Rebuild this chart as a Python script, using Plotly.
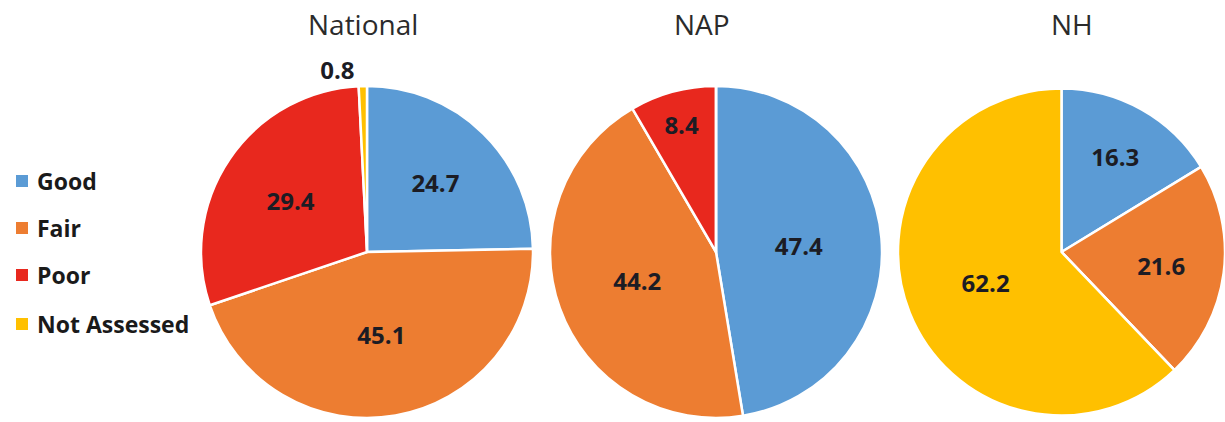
import plotly.graph_objects as go

categories = ["Good", "Fair", "Poor", "Not Assessed"]
colors = ["#5B9BD5", "#ED7D31", "#E8281E", "#FFC000"]

regions = ["National", "NAP", "NH"]
national = [24.7, 45.1, 29.4, 0.8]
nap = [47.4, 44.2, 8.4, 0.0]
nh = [16.3, 21.6, 0.0, 62.2]
series = [national, nap, nh]

W, H = 1225, 422
# pie domains in pixels (left, right, top, bottom)
dom_px = [(201, 533, 86, 418), (550, 882, 86, 418), (898, 1225, 86, 418)]
title_x = [363, 702, 1072]

fig = go.Figure()
for name, vals, (l, r, t, b) in zip(regions, series, dom_px):
    texts = [f"{v:.1f}" if v > 0 else "" for v in vals]
    pos = ["inside" if v >= 3 else "outside" for v in vals]
    fig.add_trace(go.Pie(
        labels=categories, values=vals, name=name,
        sort=False, direction="clockwise", rotation=0,
        marker=dict(colors=colors, line=dict(color="white", width=2.5)),
        text=texts, textinfo="text", textposition=pos,
        insidetextorientation="horizontal",
        textfont=dict(family="Open Sans", size=24, color="#1c1c24", weight="bold"),
        showlegend=False, hoverinfo="label+value",
        domain=dict(x=[l / W, r / W], y=[(H - b) / H, (H - t) / H]),
    ))

annotations = []
for name, tx in zip(regions, title_x):
    annotations.append(dict(
        text=name, x=tx / W, y=(H - 24) / H, xref="paper", yref="paper",
        xanchor="center", yanchor="middle", showarrow=False,
        font=dict(family="Open Sans", size=28, color="#2b2b2b"),
    ))

shapes = []
legend_y = [181, 228, 275, 324]
for cat, col, ly in zip(categories, colors, legend_y):
    shapes.append(dict(
        type="rect", xref="paper", yref="paper",
        x0=16 / W, x1=28 / W, y0=(H - ly - 6) / H, y1=(H - ly + 6) / H,
        fillcolor=col, line=dict(width=0),
    ))
    annotations.append(dict(
        text=cat, x=35 / W, y=(H - ly) / H, xref="paper", yref="paper",
        xanchor="left", yanchor="middle", showarrow=False,
        font=dict(family="Open Sans", size=23, color="#1a1a1a", weight="bold"),
    ))

fig.update_layout(
    width=W, height=H,
    margin=dict(l=0, r=0, t=0, b=0),
    paper_bgcolor="white", plot_bgcolor="white",
    annotations=annotations, shapes=shapes,
    uniformtext=dict(minsize=14, mode="show"),
)

fig.write_html("out.html")
